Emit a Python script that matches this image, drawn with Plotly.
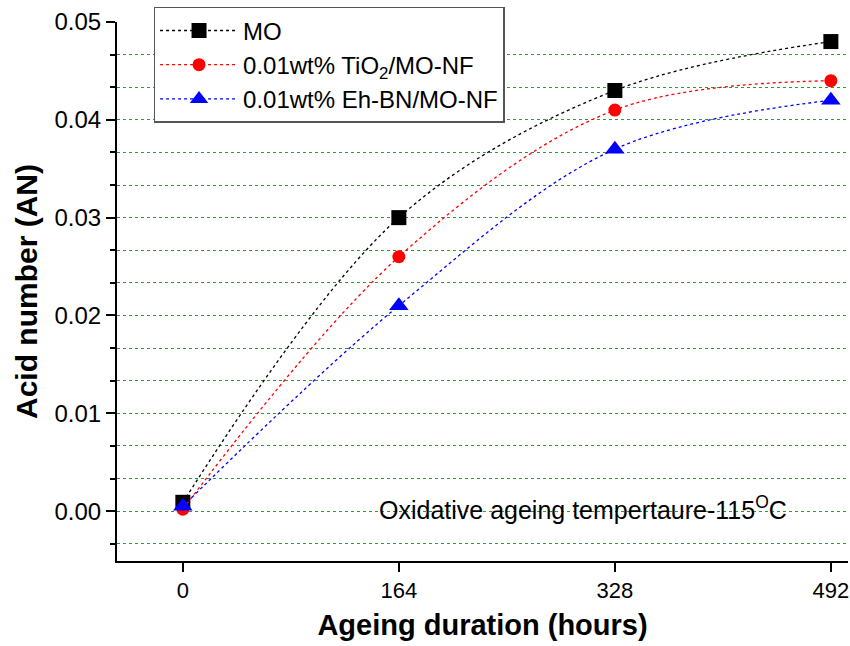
import plotly.graph_objects as go

hours = [0, 164, 328, 492]
mo = [0.0009, 0.030, 0.043, 0.048]
tio2 = [0.0002, 0.026, 0.041, 0.044]
ehbn = [0.0005, 0.021, 0.037, 0.042]

x_ticks = [0, 164, 328, 492]
y_ticks = [0.00, 0.01, 0.02, 0.03, 0.04, 0.05]
y_tick_labels = ["0.00", "0.01", "0.02", "0.03", "0.04", "0.05"]

series = [
    ("MO", mo, "black", "square", 15),
    ("0.01wt% TiO<sub>2</sub>/MO-NF", tio2, "red", "circle", 13),
    ("0.01wt% Eh-BN/MO-NF", ehbn, "blue", "triangle-up", 17),
]

fig = go.Figure()
for name, vals, col, sym, sz in series:
    fig.add_trace(go.Scatter(
        x=hours, y=vals, name=name, mode="lines+markers",
        line=dict(color=col, width=1.3, dash="dot", shape="spline", smoothing=1.0),
        marker=dict(symbol=sym, size=sz, color=col, line=dict(width=0)),
    ))

font_family = "Liberation Sans"

fig.update_layout(
    width=850, height=646,
    margin=dict(l=117, r=2, t=22, b=85),
    paper_bgcolor="white", plot_bgcolor="white",
    font=dict(family=font_family, size=24, color="black"),
    showlegend=True,
    legend=dict(
        x=0.05, y=1.028, xanchor="left", yanchor="top",
        bgcolor="white", bordercolor="#555555", borderwidth=1.5,
        font=dict(size=24, family=font_family),
        tracegroupgap=0, itemwidth=78,
    ),
    xaxis=dict(
        range=[-50, 505], tickvals=x_ticks, ticktext=[str(v) for v in x_ticks],
        showgrid=False, zeroline=False,
        showline=True, linecolor="black", linewidth=2,
        ticks="outside", ticklen=9, tickwidth=2, tickcolor="black",
        tickfont=dict(size=22, family=font_family),
        title=dict(text="<b>Ageing duration (hours)</b>", font=dict(size=29, family=font_family), standoff=12),
    ),
    yaxis=dict(
        range=[-0.0051, 0.05], tickvals=y_ticks, ticktext=y_tick_labels,
        showgrid=False, zeroline=False,
        showline=True, linecolor="black", linewidth=2,
        ticks="outside", ticklen=9, tickwidth=2, tickcolor="black",
        tickfont=dict(size=24, family=font_family),
        title=dict(text="<b>Acid number (AN)</b>", font=dict(size=30, family=font_family), standoff=8),
        minor=dict(
            dtick=0.01 / 3, tick0=0, ticks="outside", ticklen=5, tickwidth=2,
            tickcolor="black", showgrid=True, gridcolor="#2e9a2e", gridwidth=1,
            griddash="dot",
        ),
    ),
)

fig.add_annotation(
    x=304, y=0.0003, xref="x", yref="y",
    text="Oxidative ageing tempertaure-115<sup>O</sup>C",
    showarrow=False, font=dict(size=25, family=font_family, color="black"),
)

fig.write_html("out.html")
